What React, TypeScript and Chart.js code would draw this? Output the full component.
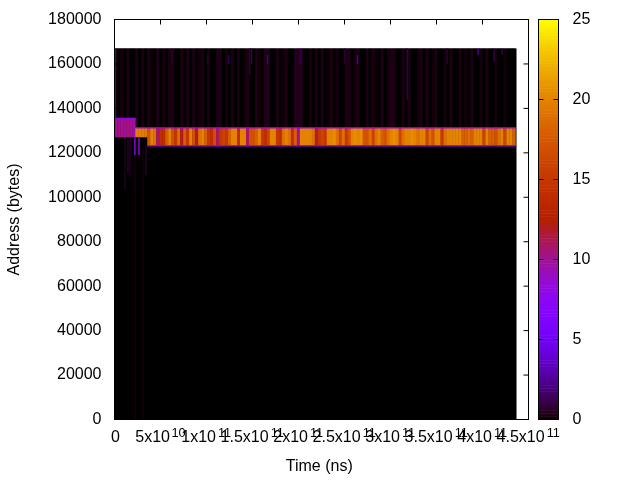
import React, { useEffect, useRef } from "react";
import { Chart, registerables } from "chart.js";

Chart.register(...registerables);

const xTickLabels = ["0", "5x10", "1x10", "1.5x10", "2x10", "2.5x10", "3x10", "3.5x10", "4x10", "4.5x10"];
const xTickExponents = ["", "10", "11", "11", "11", "11", "11", "11", "11", "11"];
const xAxisTitle = "Time (ns)";
const yAxisTitle = "Address (bytes)";
const columnWidthNs = 3.253e9;
const columnCount = 134;

const dataTop = 167000;
const bandTop = 131265;
const bandBottom = 123165;
const blockTop = 135450;
const blockBottom = 127035;

// column index 0..6: the early block
const earlyBlockValues = [9.8, 10.4, 10.2, 10, 10.5, 10.1, 9.7];
// column index 7..10
const orangeBlockValues = [19.9, 19.9, 19.8, 19.6];
// column index 11..133
const bandValues = [
  17, 20, 19, 11, 14, 14, 18, 20, 17, 15, 19, 12, 18, 15, 20, 17, 12, 19, 20, 18, 15, 14, 17, 11, 15, 16, 15, 18, 20, 20, 14,
  20, 20, 11, 17, 17, 18, 20, 15, 14, 16, 20, 20, 15, 14, 19, 20, 19, 14, 18, 10, 20, 20, 20, 20, 19, 12, 15, 16, 15, 20,
  20, 20.5, 19, 16, 19, 15, 17, 20, 20.5, 20, 20.5, 17, 17, 19, 16, 19, 20, 18, 17, 19, 20, 20.5, 20, 16, 19, 20, 20, 20.5, 20, 19,
  20, 20, 16, 19, 17, 20, 20, 15, 19, 20, 20, 20, 20, 20, 18, 18, 19, 18, 20, 20, 20, 16, 20, 18, 18, 17, 19, 20, 16, 20,
  20, 18,
];
// column index 0..133: the faint field above the band
const upperValues = [
  0.3, 0, 0.2, 0, 0.3, 0, 0, 0.3, 0, 0.25, 0, 0.3, 0.1, 0, 0.35, 0, 0.2, 0, 0.3, 0.3, 0, 0, 0.25, 0, 0.35, 0, 0.3, 0,
  0.15, 0.3, 0, 0.25, 0, 0, 0.3, 0.3, 0, 0.2, 0, 0.35, 0, 0.25, 0, 0.1, 0.3, 0, 0, 0.3, 0.1, 0, 0.4, 0.4, 0, 0, 0.3, 0,
  0.15, 0.25, 0, 0, 0.4, 0.45, 0.4, 0, 0, 0.2, 0, 0.25, 0, 0.3, 0, 0.1, 0.3, 0, 0.2, 0, 0, 0.3, 0.3, 0, 0.15, 0.25, 0, 0,
  0.3, 0, 0.25, 0.1, 0, 0.3, 0, 0.2, 0.35, 0.3, 0, 0, 0.25, 0, 0.3, 0, 0, 0.15, 0.3, 0, 0.25, 0, 0.1, 0.3, 0, 0, 0.2, 0,
  0.3, 0, 0, 0.25, 0, 0.15, 0, 0.3, 0, 0, 0.2, 0, 0.25, 0, 0, 0.2, 0, 0, 0.15, 0, 0, 0,
];
// short streaks
const streakTimes = [0.5e9, 0.5e9, 11.4e9, 14.6e9, 16.8e9, 22.2e9, 26.6e9, 30.9e9, 22.2e9, 34.2e9, 62.3e9, 101.4e9, 124.2e9, 146.9e9, 149e9, 166.4e9, 202.2e9, 249.9e9, 264e9, 318.2e9, 361.6e9, 395.2e9, 412.6e9, 421.2e9];
const streakLows = [135000, 127000, 103000, 111000, 109000, 119000, 119000, 0, 0, 110000, 160000, 160000, 160000, 155000, 160000, 160000, 160000, 160000, 160000, 143800, 160000, 164000, 161000, 164000];
const streakHighs = [167000, 135000, 127000, 127000, 127000, 127000, 127000, 123000, 119000, 123000, 167000, 164000, 164000, 167000, 167000, 164000, 167000, 167000, 164000, 167000, 167000, 167000, 167000, 167000];
const streakValues = [4, 7, 0.5, 0.8, 0.5, 8, 8, 0.2, 0.2, 0.8, 0.8, 0.8, 1.2, 0.8, 1.5, 2, 1.2, 0.8, 2.5, 1.2, 0.8, 2.5, 1.2, 1.2];

const palette = (v: number) => {
  const x = Math.max(0, Math.min(1, v / 25));
  const r = Math.sqrt(x);
  const g = x * x * x;
  const b = Math.max(0, Math.sin(2 * Math.PI * x));
  return `rgb(${Math.round(r * 255)},${Math.round(g * 255)},${Math.round(b * 255)})`;
};

const centre = (i: number) => (i + 0.5) * columnWidthNs;

const chartFont = "'Liberation Sans', Arial, sans-serif";

const heatPlugin = {
  id: "heatFrame",
  afterDatasetsDraw(chart: any) {
    const { ctx, chartArea: a, scales } = chart;
    const x = scales.x;
    const y = scales.y;
    const cb = scales.cb;
    ctx.save();
    // colour box
    const cbLeft = 538.5;
    const cbRight = 558.5;
    const levels = 128;
    for (let i = 0; i < levels; i++) {
      const lo = (i / levels) * 25;
      const hi = ((i + 1) / levels) * 25;
      ctx.fillStyle = palette((lo + hi) / 2);
      const top = cb.getPixelForValue(hi);
      ctx.fillRect(cbLeft, top, cbRight - cbLeft, cb.getPixelForValue(lo) - top + 0.5);
    }
    ctx.strokeStyle = "#000";
    ctx.lineWidth = 1;
    ctx.beginPath();
    for (const t of x.ticks) {
      const p = x.getPixelForValue(t.value);
      ctx.moveTo(p, a.top);
      ctx.lineTo(p, a.top + 5);
      ctx.moveTo(p, a.bottom);
      ctx.lineTo(p, a.bottom - 5);
    }
    for (const t of y.ticks) {
      const p = y.getPixelForValue(t.value);
      ctx.moveTo(a.left, p);
      ctx.lineTo(a.left + 5, p);
      ctx.moveTo(a.right, p);
      ctx.lineTo(a.right - 5, p);
    }
    for (const t of cb.ticks) {
      const p = cb.getPixelForValue(t.value);
      ctx.moveTo(cbLeft, p);
      ctx.lineTo(cbLeft + 5, p);
      ctx.moveTo(cbRight, p);
      ctx.lineTo(cbRight - 5, p);
    }
    ctx.stroke();
    ctx.strokeRect(a.left, a.top, a.right - a.left, a.bottom - a.top);
    ctx.strokeRect(cbLeft, a.top, cbRight - cbLeft, a.bottom - a.top);
    // exponents of the time axis
    ctx.fillStyle = "#000";
    ctx.textBaseline = "alphabetic";
    ctx.textAlign = "left";
    x.ticks.forEach((t: any, i: number) => {
      const exp = xTickExponents[i];
      if (!exp) return;
      ctx.font = `16px ${chartFont}`;
      const w = ctx.measureText(xTickLabels[i]).width;
      ctx.font = `12.8px ${chartFont}`;
      const s = ctx.measureText(exp).width;
      const left = x.getPixelForValue(t.value) - (w + 1.5 + s) / 2;
      ctx.fillText(exp, left + w + 1.5, 436.5);
    });
    ctx.restore();
  },
};

const bar = (label: string, data: any[], thickness: number) => ({
  label,
  data,
  barThickness: thickness,
  grouped: false,
  xAxisID: "x",
  yAxisID: "y",
  borderWidth: 0,
  inflateAmount: 0,
  backgroundColor: data.map((d) => palette(d.v)),
});

const noPadding = (s: any) => {
  s.paddingTop = 0;
  s.paddingBottom = 0;
  s.paddingLeft = 0;
  s.paddingRight = 0;
};

export default function App() {
  const ref = useRef<HTMLCanvasElement>(null);
  useEffect(() => {
    const edgeColumns = bandValues.map((v, i) => i + 11);
    const datasets = [
      bar("streaks", streakTimes.map((t, i) => ({ x: t, y: [streakLows[i], streakHighs[i]], v: streakValues[i] })), 1.4),
      bar("band top edge", [...orangeBlockValues.map((v, i) => i + 7), ...edgeColumns].map((i) => ({ x: centre(i), y: [bandTop - 300, bandTop + 300], v: 8 })), 3.4),
      bar("band bottom edge", edgeColumns.map((i) => ({ x: centre(i), y: [bandBottom - 300, bandBottom + 300], v: 8 })), 3.4),
      bar("block top edge", earlyBlockValues.map((v, i) => ({ x: centre(i), y: [blockTop - 300, blockTop + 300], v: 8 })), 3.4),
      bar("band", bandValues.map((v, i) => ({ x: centre(i + 11), y: [bandBottom, bandTop], v })), 3.4),
      bar("orange block", orangeBlockValues.map((v, i) => ({ x: centre(i + 7), y: [blockBottom, bandTop], v })), 3.4),
      bar("early block", earlyBlockValues.map((v, i) => ({ x: centre(i), y: [blockBottom, blockTop], v })), 3.4),
      bar("upper field", upperValues.map((v, i) => ({ x: centre(i), y: [bandTop, dataTop], v })), 3.4),
      bar("ground", [{ x: (columnCount / 2) * columnWidthNs, y: [0, dataTop], v: 0 }], columnCount * 3 + 1),
    ].map((d, i) => ({ ...d, order: i }));
    const chart = new Chart(ref.current!, {
      type: "bar",
      data: { datasets } as any,
      plugins: [heatPlugin],
      options: {
        animation: false,
        responsive: false,
        events: [],
        layout: { padding: { top: 19.5, left: 0, right: 0, bottom: 0 } },
        plugins: { legend: { display: false }, tooltip: { enabled: false }, title: { display: false } },
        font: { family: chartFont, size: 16 },
        scales: {
          x: {
            type: "linear",
            min: 0,
            max: 4.5e11,
            offset: false,
            grid: { display: false },
            border: { display: false },
            ticks: {
              stepSize: 5e10,
              autoSkip: false,
              maxRotation: 0,
              minRotation: 0,
              includeBounds: false,
              color: "#000",
              padding: 0,
              labelOffset: 1,
              font: { family: chartFont, size: 16 },
              callback: (_v: any, i: number) => (xTickExponents[i] ? xTickLabels[i] + "    " : xTickLabels[i]),
            },
            title: { display: true, text: xAxisTitle + " ", color: "#000", font: { family: chartFont, size: 16 }, padding: { top: 0, bottom: 4 } },
            afterFit: (s: any) => { s.height = 60.5; noPadding(s); },
          },
          y: {
            type: "linear",
            min: 0,
            max: 180000,
            grid: { display: false },
            border: { display: false },
            ticks: {
              stepSize: 20000,
              color: "#000",
              padding: 5,
              font: { family: chartFont, size: 16 },
              callback: (v: any) => String(v),
            },
            title: { display: true, text: yAxisTitle, color: "#000", font: { family: chartFont, size: 16 }, padding: { top: 5, bottom: 0 } },
            afterFit: (s: any) => { s.width = 114.5; noPadding(s); },
          },
          cb: {
            type: "linear",
            position: "right",
            min: 0,
            max: 25,
            grid: { display: false },
            border: { display: false },
            ticks: { stepSize: 5, color: "#000", padding: 36, font: { family: chartFont, size: 16 } },
            afterFit: (s: any) => { s.width = 111.5; noPadding(s); },
          },
        },
      } as any,
    });
    return () => chart.destroy();
  }, []);
  return <canvas ref={ref} width={640} height={480} style={{ position: "fixed", left: 0, top: 0, width: 640, height: 480, display: "block" }} />;
}
